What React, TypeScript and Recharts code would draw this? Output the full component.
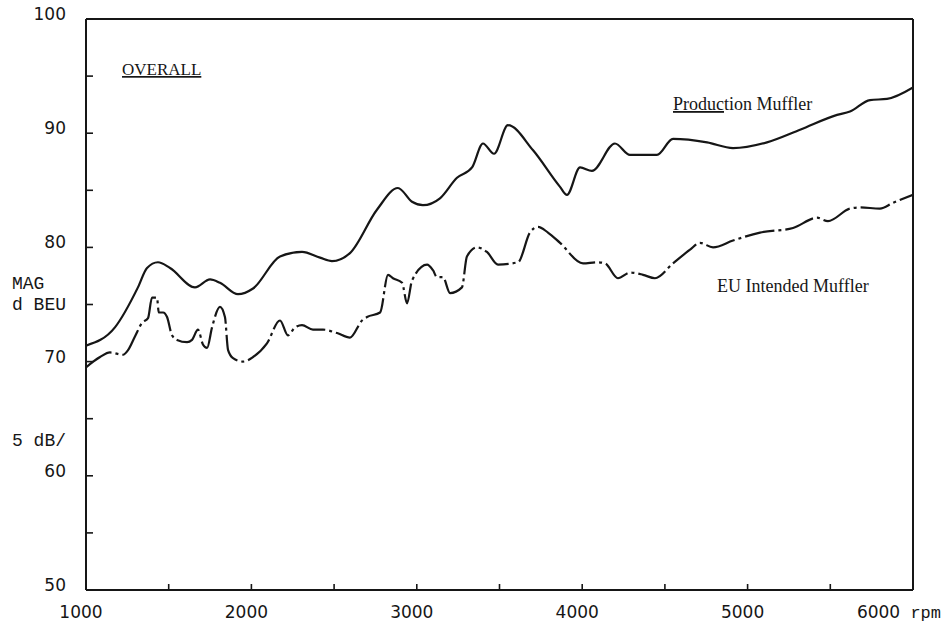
import React from 'react';
import { LineChart, Line, XAxis, YAxis } from 'recharts';

// Production muffler (solid trace)
const prodRpm = [1000, 1175, 1314, 1369, 1435, 1508, 1659, 1750, 1810, 1919, 2010, 2173, 2306, 2415, 2487, 2596, 2759, 2886, 2971, 3037, 3140, 3243, 3334, 3400, 3467, 3551, 3703, 3866, 3908, 3987, 4059, 4198, 4289, 4452, 4549, 4755, 4912, 5117, 5317, 5541, 5619, 5740, 5843, 6000];
const prodDb = [71.4, 73.0, 76.5, 78.2, 78.7, 78.2, 76.5, 77.2, 76.9, 75.9, 76.4, 79.2, 79.6, 79.1, 78.8, 79.5, 83.3, 85.2, 84.0, 83.7, 84.3, 86.1, 87.0, 89.1, 88.2, 90.7, 88.5, 85.3, 84.6, 87.0, 86.7, 89.1, 88.1, 88.1, 89.5, 89.2, 88.7, 89.2, 90.3, 91.6, 91.9, 92.9, 93.0, 94.0];

// EU intended muffler (dash-dot trace)
const euRpm = [1000, 1085, 1145, 1224, 1254, 1296, 1339, 1375, 1399, 1429, 1440, 1466, 1490, 1520, 1550, 1611, 1641, 1677, 1707, 1732, 1762, 1810, 1840, 1859, 1889, 1949, 2010, 2094, 2173, 2221, 2264, 2306, 2372, 2433, 2518, 2596, 2669, 2699, 2778, 2826, 2856, 2911, 2941, 2971, 3062, 3098, 3122, 3158, 3201, 3273, 3303, 3364, 3424, 3491, 3612, 3684, 3733, 3793, 3866, 4005, 4089, 4138, 4216, 4289, 4368, 4440, 4549, 4652, 4712, 4791, 4912, 5075, 5275, 5420, 5486, 5619, 5680, 5800, 5879, 6000];
const euDb = [69.5, 70.4, 70.8, 70.6, 71.0, 72.2, 73.4, 73.8, 75.6, 75.6, 74.3, 74.3, 73.9, 72.3, 71.9, 71.7, 71.9, 72.8, 71.5, 71.2, 73.0, 74.8, 73.9, 71.0, 70.3, 70.0, 70.4, 71.6, 73.6, 72.3, 73.0, 73.2, 72.8, 72.8, 72.5, 72.1, 73.6, 73.9, 74.3, 77.6, 77.3, 76.9, 75.1, 77.1, 78.5, 78.0, 77.4, 77.4, 76.0, 76.5, 79.2, 80.0, 79.6, 78.5, 78.7, 81.3, 81.8, 81.3, 80.4, 78.6, 78.7, 78.6, 77.3, 77.8, 77.6, 77.3, 78.6, 79.8, 80.4, 80.0, 80.6, 81.3, 81.7, 82.6, 82.3, 83.4, 83.5, 83.4, 83.9, 84.6];

const xTicks = [1000, 1500, 2000, 2500, 3000, 3500, 4000, 4500, 5000, 5500, 6000];
const xTickText = ['1000', '', '2000', '', '3000', '', '4000', '', '5000', '', '6000'];
const yTicks = [50, 55, 60, 65, 70, 75, 80, 85, 90, 95, 100];
const yTickText = ['50', '', '60', '', '70', 'd BEU', '80', '', '90', '', '100'];
const yTickNote = ['', '', '5 dB/', '', '', 'MAG', '', '', '', '', ''];

const ink = '#161616';
const digitFont = '"DejaVu Sans", sans-serif';
const monoFont = '"Liberation Mono", monospace';
const serifFont = '"Liberation Serif", serif';

const prodData = prodRpm.map((rpm, i) => ({ rpm, db: prodDb[i] }));
const euData = euRpm.map((rpm, i) => ({ rpm, db: euDb[i] }));

const BottomTick = ({ x, y, payload }: any) => {
  const text = xTickText[xTicks.indexOf(payload.value)];
  return (
    <g>
      <line x1={x} x2={x} y1={y} y2={y - 6} stroke={ink} strokeWidth={1.6} />
      {text && payload.value < 6000 && (
        <text x={x - 5} y={y + 28} textAnchor="middle" fontFamily={digitFont} fontSize={17} fill={ink}>
          {text}
        </text>
      )}
      {payload.value === 6000 && (
        <text x={x + 28} y={y + 28} textAnchor="end" fontFamily={digitFont} fontSize={17} fill={ink}>
          {text}
          <tspan fontFamily={monoFont}> rpm</tspan>
        </text>
      )}
    </g>
  );
};

const TopTick = ({ x, y, payload }: any) => {
  if (payload.value === 1000 || payload.value === 6000) return null;
  return <line x1={x} x2={x} y1={y} y2={y + 6} stroke={ink} strokeWidth={1.6} />;
};

const LeftTick = ({ x, y, payload }: any) => {
  const i = yTicks.indexOf(payload.value);
  const text = yTickText[i];
  const note = yTickNote[i];
  const numeric = /^\d+$/.test(text);
  return (
    <g>
      <line x1={x} x2={x + 7} y1={y} y2={y} stroke={ink} strokeWidth={1.6} />
      {text && numeric && (
        <text x={66} y={y + 1} textAnchor="end" fontFamily={digitFont} fontSize={17} fill={ink}>
          {text}
        </text>
      )}
      {text && !numeric && (
        <text x={12} y={y + 5} fontFamily={monoFont} fontSize={18} fill={ink}>
          {text}
        </text>
      )}
      {note && (
        <text x={12} y={y + 5 - (numeric ? 35 : 21)} fontFamily={monoFont} fontSize={18} fill={ink}>
          {note}
        </text>
      )}
    </g>
  );
};

const RightTick = ({ x, y, payload }: any) => {
  if (payload.value === 50 || payload.value === 100) return null;
  return <line x1={x} x2={x - 7} y1={y} y2={y} stroke={ink} strokeWidth={1.6} />;
};

export default function App() {
  return (
    <div style={{ position: 'absolute', left: 0, top: 0, width: 942, height: 628, background: '#fff' }}>
      <LineChart width={942} height={628} margin={{ top: 0, right: 0, bottom: 0, left: 0 }}>
        <XAxis
          dataKey="rpm"
          type="number"
          domain={[1000, 6000]}
          ticks={xTicks}
          interval={0}
          height={38}
          tickSize={0}
          tickMargin={0}
          tickLine={false}
          axisLine={{ stroke: ink, strokeWidth: 2 }}
          tick={<BottomTick />}
          allowDataOverflow
        />
        <XAxis
          xAxisId="top"
          orientation="top"
          type="number"
          domain={[1000, 6000]}
          ticks={xTicks}
          interval={0}
          height={19}
          tickSize={0}
          tickMargin={0}
          tickLine={false}
          axisLine={{ stroke: ink, strokeWidth: 2 }}
          tick={<TopTick />}
        />
        <YAxis
          type="number"
          domain={[50, 100]}
          ticks={yTicks}
          interval={0}
          width={86}
          tickSize={0}
          tickMargin={0}
          tickLine={false}
          axisLine={{ stroke: ink, strokeWidth: 2 }}
          tick={<LeftTick />}
          allowDataOverflow
        />
        <YAxis
          yAxisId="right"
          orientation="right"
          type="number"
          domain={[50, 100]}
          ticks={yTicks}
          interval={0}
          width={29}
          tickSize={0}
          tickMargin={0}
          tickLine={false}
          axisLine={{ stroke: ink, strokeWidth: 2 }}
          tick={<RightTick />}
        />
        <Line
          data={prodData}
          dataKey="db"
          type="monotone"
          stroke={ink}
          strokeWidth={2.2}
          dot={false}
          isAnimationActive={false}
        />
        <Line
          data={euData}
          dataKey="db"
          type="monotone"
          stroke={ink}
          strokeWidth={2.2}
          strokeDasharray="30 4 3 4"
          dot={false}
          isAnimationActive={false}
        />
        <text x={122} y={75} fontFamily={serifFont} fontSize={17} fill={ink} textDecoration="underline">
          OVERALL
        </text>
        <text x={673} y={110} fontFamily={serifFont} fontSize={18} fill={ink}>
          <tspan textDecoration="underline">Produc</tspan>
          <tspan>tion Muffler</tspan>
        </text>
        <text x={717} y={292} fontFamily={serifFont} fontSize={18} fill={ink}>
          EU Intended Muffler
        </text>
      </LineChart>
    </div>
  );
}
